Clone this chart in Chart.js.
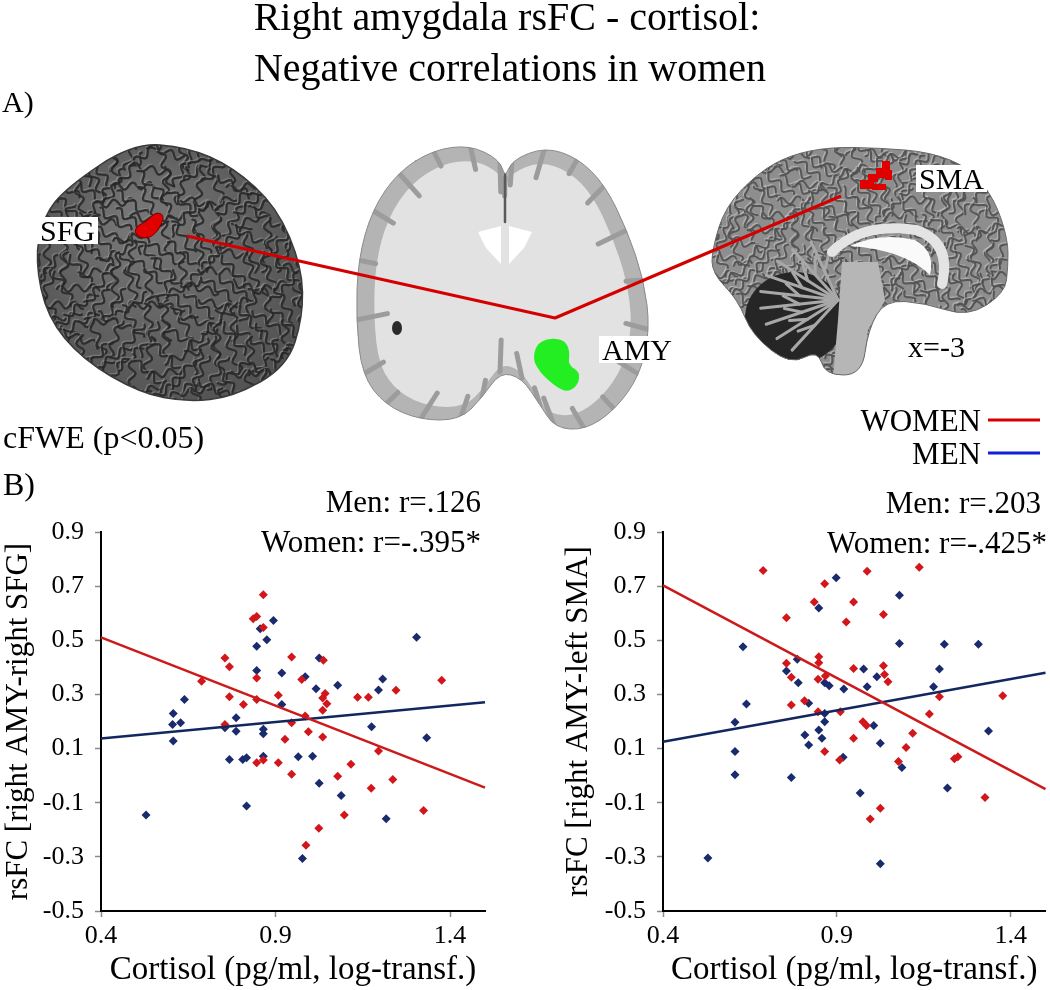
<!DOCTYPE html>
<html>
<head>
<meta charset="utf-8">
<script src="https://cdn.jsdelivr.net/npm/chart.js@4.4.0/dist/chart.umd.min.js"></script>
<style>
  html, body { margin: 0; padding: 0; background: #fff; }
  #page { position: relative; width: 1050px; height: 990px; overflow: hidden;
          font-family: 'Liberation Serif', 'Times New Roman', serif; color: #000; }
  #page canvas { position: absolute; }
  .txt { position: absolute; white-space: nowrap; }
  .box { background: #fff; padding: 0 3px; }
</style>
</head>
<body>
<div id="page">
  <canvas id="brains" width="1050" height="470" style="left:0;top:0"></canvas>
  <canvas id="sfgChart" width="500" height="490" style="left:0;top:500px"></canvas>
  <canvas id="smaChart" width="490" height="490" style="left:560px;top:500px"></canvas>
</div>
<script>
// ---- data ----
const xTicks = [0.4, 0.9, 1.4];
const yTicks = [-0.5, -0.3, -0.1, 0.1, 0.3, 0.5, 0.7, 0.9];
const fitX = [0.4, 1.5];

// right AMY - right SFG
const sfgWomenX = [0.865, 0.836, 0.846, 0.865, 0.755, 0.768, 0.946, 0.846, 0.688, 0.975, 0.768, 0.808, 0.846, 0.908, 0.985, 0.755, 0.946, 0.994, 0.927, 0.846, 0.865, 0.908, 0.946,
                   1.037, 1.042, 1.035, 1.047, 1.035, 1.135, 1.166, 1.245, 1.376, 1.035, 1.195, 1.116, 1.078, 1.236, 1.174,
                   1.097, 1.324, 1.024, 0.987];
const sfgWomenY = [0.668, 0.580, 0.588, 0.547, 0.435, 0.402, 0.438, 0.361, 0.349, 0.355, 0.291, 0.263, 0.281, 0.297, 0.220, 0.189, 0.195, 0.162, 0.134, 0.048, 0.058, 0.048, 0.005,
                   0.426, 0.303, 0.287, 0.266, 0.242, 0.290, 0.290, 0.315, 0.352, 0.143, 0.091, 0.042, -0.002, -0.014, -0.047,
                   -0.145, -0.129, -0.194, -0.257];
const sfgMenX = [0.894, 0.856, 0.875, 0.846, 0.846, 0.918, 0.985, 0.639, 0.918, 0.607, 0.628, 0.605, 0.787, 0.755, 0.787, 0.865, 0.865, 0.607, 0.768, 0.806, 0.817, 0.865, 0.965,
                 1.304, 1.025, 1.207, 1.078, 1.016, 1.195, 1.175, 1.333, 1.006, 1.025, 1.088,
                 0.529, 0.817, 1.217, 0.977];
const sfgMenY = [0.573, 0.543, 0.502, 0.478, 0.388, 0.379, 0.365, 0.281, 0.263, 0.230, 0.195, 0.189, 0.214, 0.177, 0.164, 0.171, 0.155, 0.128, 0.060, 0.060, 0.066, 0.072, 0.070,
                 0.511, 0.435, 0.357, 0.334, 0.321, 0.316, 0.181, 0.140, 0.072, -0.028, -0.073,
                 -0.145, -0.112, -0.159, -0.306];
const sfgFitWomen = [0.511, -0.044];
const sfgFitMen = [0.137, 0.271];

// right AMY - left SMA
const smaWomenX = [0.688, 0.865, 0.835, 0.755, 0.927, 0.848, 0.848, 0.755, 0.769, 0.867, 0.846, 0.769, 0.807, 0.846, 0.910, 0.865, 0.908,
                   1.137, 0.987, 0.948, 1.034, 0.948, 1.034, 1.037, 1.047, 1.195, 1.377, 1.166, 0.975, 0.985, 0.948, 1.118, 1.099, 1.077, 1.238, 1.248, 1.326,
                   1.025, 0.996];
const smaWomenY = [0.758, 0.709, 0.641, 0.583, 0.568, 0.439, 0.417, 0.415, 0.363, 0.368, 0.356, 0.261, 0.277, 0.236, 0.236, 0.089, 0.058,
                   0.770, 0.755, 0.641, 0.595, 0.396, 0.406, 0.374, 0.347, 0.291, 0.295, 0.228, 0.199, 0.185, 0.138, 0.157, 0.104, 0.052, 0.062, 0.070, -0.081,
                   -0.120, -0.160];
const smaMenX = [0.898, 0.848, 0.630, 0.786, 0.755, 0.789, 0.865, 0.878, 0.920, 0.640, 0.819, 0.607, 0.865, 0.865, 0.848, 0.808, 0.857, 0.819, 0.607, 0.918, 0.607, 0.769,
                 1.080, 1.080, 1.209, 1.307, 0.977, 1.195, 1.015, 0.987, 1.178, 1.006, 1.336, 1.025, 1.087, 0.967, 1.218,
                 0.529, 1.025];
const smaMenY = [0.731, 0.619, 0.476, 0.430, 0.387, 0.343, 0.343, 0.332, 0.320, 0.265, 0.267, 0.197, 0.230, 0.199, 0.169, 0.150, 0.138, 0.113, 0.089, 0.068, 0.003, -0.007,
                 0.666, 0.488, 0.485, 0.485, 0.394, 0.394, 0.365, 0.328, 0.328, 0.185, 0.165, 0.120, 0.030, -0.064, -0.046,
                 -0.304, -0.325];
const smaFitWomen = [0.703, -0.050];
const smaFitMen = [0.125, 0.380];

const RED = '#d2161b';
const NAVY = '#1a2b6d';

// ---- text ----
const page = document.getElementById('page');
function addText(str, x, baseline, size, align, cls, lh) {
  const d = document.createElement('div');
  d.className = 'txt' + (cls ? ' ' + cls : '');
  d.textContent = str;
  const L = lh || size;
  d.style.fontSize = size + 'px';
  d.style.lineHeight = L + 'px';
  d.style.top = (baseline - ((L - 1.107 * size) / 2 + 0.891 * size)) + 'px';
  if (align === 'right') d.style.right = (1050 - x) + 'px';
  else if (align === 'center') { d.style.left = (x - 450) + 'px'; d.style.width = '900px'; d.style.textAlign = 'center'; }
  else d.style.left = x + 'px';
  page.appendChild(d);
}
addText('Right amygdala rsFC - cortisol:', 507, 30, 40, 'center');
addText('Negative correlations in women', 510, 81, 40, 'center');
addText('A)', 2, 112, 30);
addText('SFG', 37, 241, 30, 'left', 'box', 27);
addText('AMY', 599, 360, 30, 'left', 'box', 27);
addText('SMA', 916, 189, 30, 'left', 'box', 27);
addText('x=-3', 908, 357, 30);
addText('cFWE (p<0.05)', 3, 448, 32);
addText('WOMEN', 981, 431, 31, 'right');
addText('MEN', 981, 464, 31, 'right');
addText('B)', 3, 495, 32);
addText('Men: r=.126', 481, 512, 31, 'right');
addText('Women: r=-.395*', 481, 552, 31, 'right');
addText('Men: r=.203', 1041, 513, 31, 'right');
addText('Women: r=-.425*', 1047, 553, 31, 'right');

// ---- panel A: schematic brain views ----
const bctx = document.getElementById('brains').getContext('2d');
bctx.lineJoin = 'round';
bctx.lineCap = 'round';

function smoothClosed(ctx, pts) {
  const n = pts.length;
  const mid = (a, b) => [(a[0] + b[0]) / 2, (a[1] + b[1]) / 2];
  const m = mid(pts[n - 1], pts[0]);
  ctx.beginPath();
  ctx.moveTo(m[0], m[1]);
  for (let i = 0; i < n; i++) {
    const p = pts[i], q = pts[(i + 1) % n], mm = mid(p, q);
    ctx.quadraticCurveTo(p[0], p[1], mm[0], mm[1]);
  }
  ctx.closePath();
}

// deterministic wavy strokes standing in for gyri / sulci
function squiggles(ctx, x0, y0, x1, y1, step, dark, light, w) {
  for (let gx = x0; gx <= x1; gx += step) {
    for (let gy = y0; gy <= y1; gy += step) {
      const a = Math.sin(gx * 0.031 + gy * 0.047) * 1.6 + Math.cos(gy * 0.023 - gx * 0.017);
      const len = Math.round(step * 1.1);
      const draw = (dx, dy, col, lw) => {
        ctx.beginPath();
        for (let s = -len; s <= len; s += 2) {
          const wob = 3.6 * Math.sin(s * 0.38 + gx * 0.7);
          const px = gx + dx + Math.cos(a) * s - Math.sin(a) * wob;
          const py = gy + dy + Math.sin(a) * s + Math.cos(a) * wob;
          if (s === -len) ctx.moveTo(px, py); else ctx.lineTo(px, py);
        }
        ctx.strokeStyle = col; ctx.lineWidth = lw; ctx.stroke();
      };
      draw(-1.5, -1.5, light, w * 0.7);
      draw(0, 0, dark, w);
    }
  }
}

// 3D rendered brain (top view)
const surface = [[67,187],[133,143],[187,147],[233,167],[277,207],[302,267],[303,317],[287,367],[233,397],[187,402],[140,393],[83,360],[47,317],[35,260],[43,217]];
bctx.save();
smoothClosed(bctx, surface);
let g = bctx.createRadialGradient(140, 220, 20, 170, 275, 170);
g.addColorStop(0, '#757575');
g.addColorStop(1, '#4c4c4c');
bctx.fillStyle = g;
bctx.fill();
bctx.clip();
squiggles(bctx, 30, 135, 310, 410, 17, 'rgba(38,38,38,0.85)', 'rgba(150,150,150,0.5)', 2.3);
bctx.restore();
smoothClosed(bctx, surface);
bctx.strokeStyle = '#3a3a3a'; bctx.lineWidth = 1.5; bctx.stroke();

// coronal slice
const coronal = [[433,150],[470,145],[500,160],[505,178],[512,160],[545,147],[578,158],[605,185],[627,230],[644,280],[650,330],[640,375],[615,410],[585,430],[555,428],[540,405],[522,378],[500,372],[482,398],[460,420],[420,420],[385,405],[362,375],[356,320],[358,260],[372,210],[398,172]];
bctx.save();
smoothClosed(bctx, coronal);
bctx.fillStyle = '#b4b4b4';
bctx.fill();
bctx.clip();
bctx.save();
bctx.translate(503, 290); bctx.scale(0.88, 0.9); bctx.translate(-503, -290);
smoothClosed(bctx, coronal);
bctx.fillStyle = '#e2e2e2';
bctx.fill();
bctx.restore();
bctx.strokeStyle = '#9c9c9c'; bctx.lineWidth = 5;
coronal.forEach(([px, py], i) => {
  const dx = 503 - px, dy = 290 - py, d = Math.hypot(dx, dy);
  const l = 18 + (i % 3) * 7;
  bctx.beginPath();
  bctx.moveTo(px, py);
  bctx.lineTo(px + dx / d * l, py + dy / d * l);
  bctx.stroke();
});
bctx.fillStyle = '#fff';
bctx.beginPath(); bctx.moveTo(501, 226); bctx.lineTo(478, 232); bctx.lineTo(486, 248); bctx.lineTo(501, 264); bctx.closePath(); bctx.fill();
bctx.beginPath(); bctx.moveTo(509, 226); bctx.lineTo(532, 232); bctx.lineTo(524, 248); bctx.lineTo(509, 264); bctx.closePath(); bctx.fill();
bctx.strokeStyle = '#5a5a5a'; bctx.lineWidth = 2.5;
bctx.beginPath(); bctx.moveTo(505, 165); bctx.lineTo(505, 222); bctx.stroke();
bctx.fillStyle = '#2a2a2a';
bctx.beginPath(); bctx.ellipse(397, 328, 5, 7, 0, 0, Math.PI * 2); bctx.fill();
bctx.restore();
smoothClosed(bctx, coronal);
bctx.strokeStyle = '#8a8a8a'; bctx.lineWidth = 1; bctx.stroke();

// sagittal slice
const sagittal = [[758,173],[790,155],[830,147],[880,148],[930,152],[970,168],[995,200],[1008,240],[1008,267],[1005,293],[968,317],[925,303],[885,300],[868,330],[862,375],[825,375],[818,350],[790,365],[752,335],[738,300],[712,273],[712,250],[725,207]];
bctx.save();
smoothClosed(bctx, sagittal);
bctx.fillStyle = '#8e8e8e';
bctx.fill();
bctx.clip();
squiggles(bctx, 705, 140, 1015, 380, 15, 'rgba(80,80,80,0.9)', 'rgba(200,200,200,0.55)', 2);
bctx.fillStyle = '#262626';
bctx.beginPath(); bctx.ellipse(795, 318, 50, 46, 0, 0, Math.PI * 2); bctx.fill();
bctx.strokeStyle = '#a8a8a8'; bctx.lineWidth = 3;
for (let k = 0; k < 9; k++) {
  const a = 2.2 + k * 0.27;
  const ex = 838 + Math.cos(a) * 78, ey = 300 + Math.sin(a) * 62;
  bctx.beginPath(); bctx.moveTo(838, 300); bctx.lineTo(ex, ey); bctx.stroke();
  bctx.beginPath(); bctx.moveTo((838 + ex) / 2, (300 + ey) / 2);
  bctx.lineTo((838 + ex) / 2 + Math.cos(a + 0.6) * 18, (300 + ey) / 2 + Math.sin(a + 0.6) * 18); bctx.stroke();
}
bctx.fillStyle = '#b6b6b6';
bctx.beginPath(); bctx.moveTo(842, 262); bctx.lineTo(878, 262); bctx.lineTo(885, 300); bctx.lineTo(868, 330);
bctx.lineTo(862, 378); bctx.lineTo(833, 378); bctx.lineTo(838, 320); bctx.closePath(); bctx.fill();
bctx.strokeStyle = '#e4e4e4'; bctx.lineWidth = 10;
bctx.beginPath(); bctx.moveTo(832, 252); bctx.quadraticCurveTo(862, 222, 916, 230);
bctx.quadraticCurveTo(952, 242, 942, 284); bctx.stroke();
bctx.fillStyle = '#fafafa';
bctx.beginPath(); bctx.moveTo(850, 246); bctx.quadraticCurveTo(880, 232, 915, 240);
bctx.quadraticCurveTo(936, 252, 930, 275); bctx.quadraticCurveTo(905, 250, 850, 246); bctx.fill();
bctx.restore();
smoothClosed(bctx, sagittal);
bctx.strokeStyle = '#6a6a6a'; bctx.lineWidth = 1; bctx.stroke();

// clusters
bctx.fillStyle = '#e00000';
bctx.strokeStyle = '#7a0000';
bctx.lineWidth = 1;
smoothClosed(bctx, [[134,232],[138,225],[146,222],[151,216],[158,212],[164,216],[161,225],[156,233],[149,238],[140,238]]);
bctx.fill(); bctx.stroke();
[[860,180,14,9],[868,174,10,8],[876,168,9,10],[882,161,8,9],[872,184,14,6],[885,170,7,10]].forEach(r => bctx.fillRect(r[0], r[1], r[2], r[3]));
bctx.fillStyle = '#22ee22';
smoothClosed(bctx, [[536,345],[548,338],[565,340],[570,352],[568,365],[580,372],[578,385],[568,392],[558,388],[548,380],[540,372],[533,360]]);
bctx.fill();

// connection lines
bctx.strokeStyle = '#d40000';
bctx.lineWidth = 3;
bctx.lineCap = 'butt';
bctx.beginPath(); bctx.moveTo(187, 236); bctx.lineTo(555, 318); bctx.lineTo(841, 196); bctx.stroke();

// legend samples
bctx.lineWidth = 3;
bctx.strokeStyle = '#d40000';
bctx.beginPath(); bctx.moveTo(988, 420); bctx.lineTo(1040, 420); bctx.stroke();
bctx.strokeStyle = '#1020d8';
bctx.beginPath(); bctx.moveTo(988, 453); bctx.lineTo(1040, 453); bctx.stroke();

// ---- panel B: scatter plots ----
Chart.defaults.font.family = "'Liberation Serif', 'Times New Roman', serif";
Chart.defaults.color = '#000';

const pts = (xs, ys) => xs.map((x, i) => ({ x: x, y: ys[i] }));
const tickGrid = { drawOnChartArea: false, drawTicks: true, tickLength: 6, tickColor: '#8a8a8a', tickWidth: 1.5 };
const axisBorder = { display: true, color: '#000', width: 2 };

function makePlot(id, cfg) {
  new Chart(document.getElementById(id), {
    type: 'scatter',
    data: {
      datasets: [
        { type: 'line', data: pts(fitX, cfg.fitWomen), borderColor: '#cc1a1a', borderWidth: 2.5, pointRadius: 0, order: 0 },
        { type: 'line', data: pts(fitX, cfg.fitMen), borderColor: '#13275f', borderWidth: 2.5, pointRadius: 0, order: 0 },
        { data: pts(cfg.menX, cfg.menY), backgroundColor: NAVY, pointStyle: 'rectRot', pointRadius: 4.5, pointHoverRadius: 4.5, borderWidth: 0, order: 2 },
        { data: pts(cfg.womenX, cfg.womenY), backgroundColor: RED, pointStyle: 'rectRot', pointRadius: 4.5, pointHoverRadius: 4.5, borderWidth: 0, order: 1 }
      ]
    },
    options: {
      responsive: false,
      animation: false,
      clip: false,
      layout: { padding: { top: 32, right: cfg.padRight, left: 0, bottom: 0 } },
      plugins: { legend: { display: false }, tooltip: { enabled: false } },
      scales: {
        x: {
          type: 'linear', min: 0.4, max: 1.5,
          afterBuildTicks: s => { s.ticks = xTicks.map(v => ({ value: v })); },
          afterFit: s => { s.height = 79; s.paddingLeft = 0; s.paddingRight = 0; },
          grid: tickGrid,
          border: axisBorder,
          ticks: { color: '#000', font: { size: 26 }, padding: 4, maxRotation: 0, autoSkip: false, callback: v => v.toFixed(1) },
          title: { display: true, text: 'Cortisol (pg/ml, log-transf.)', color: '#000', font: { size: 33 }, padding: { top: 0, bottom: 0 } }
        },
        y: {
          type: 'linear', min: -0.5, max: 0.9,
          afterBuildTicks: s => { s.ticks = yTicks.map(v => ({ value: v })); },
          afterFit: s => { s.width = cfg.yWidth; s.paddingTop = 0; s.paddingBottom = 0; },
          grid: tickGrid,
          border: axisBorder,
          ticks: { color: '#000', font: { size: 26 }, padding: 11, autoSkip: false, callback: v => v.toFixed(1) },
          title: { display: true, text: cfg.yTitle, color: '#000', font: { size: 31 }, padding: { top: 0, bottom: 0 } }
        }
      }
    }
  });
}

makePlot('sfgChart', {
  womenX: sfgWomenX, womenY: sfgWomenY, menX: sfgMenX, menY: sfgMenY,
  fitWomen: sfgFitWomen, fitMen: sfgFitMen,
  yTitle: 'rsFC [right AMY-right SFG]', yWidth: 101, padRight: 15
});
makePlot('smaChart', {
  womenX: smaWomenX, womenY: smaWomenY, menX: smaMenX, menY: smaMenY,
  fitWomen: smaFitWomen, fitMen: smaFitMen,
  yTitle: 'rsFC [right AMY-left SMA]', yWidth: 103, padRight: 4
});
</script>
</body>
</html>
